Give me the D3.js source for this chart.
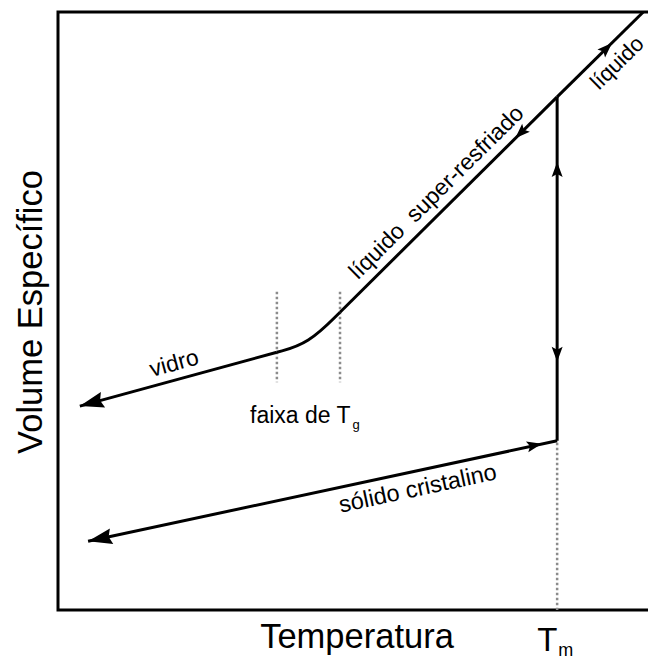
<!DOCTYPE html>
<html>
<head>
<meta charset="utf-8">
<script src="https://cdn.jsdelivr.net/npm/d3@7"></script>
<style>
  body { margin: 0; background: #fff; }
  text { font-family: "Liberation Sans", Arial, sans-serif; fill: #000; white-space: pre; }
</style>
</head>
<body>
<div id="chart"></div>
<script>
// temperature (x) and specific volume (y), both on an arbitrary 0..100 scale
var Tm = 84.6;
var tgRange = [37.1, 47.8];

var liquid      = [[84.6, 85.8], [99.2, 100]];
var supercooled = [[47.8, 49.8], [84.6, 85.8]];
var transition  = [[37.1, 43.1], [42.4, 44.5], [47.8, 49.8]];   // B-spline control points
var glass       = [[3.7, 34.1], [37.1, 43.1]];
var melting     = [[84.6, 85.8], [84.6, 28.3]];
var crystal     = [[5.1, 11.5], [84.6, 28.3]];

// arrows along the curves: [from, tip]
var midArrows = [
	[[91.5, 92.5], [93.9, 94.8]],
	[[80.0, 81.3], [77.5, 78.9]],
	[[84.6, 65.0], [84.6, 74.9]],
	[[84.6, 50.0], [84.6, 41.5]],
	[[75.0, 26.3], [82.0, 27.8]]
];
var endArrows = [
	[[37.1, 43.1], [3.7, 34.1]],
	[[84.6, 28.3], [5.1, 11.5]]
];

var width = 648, height = 659;

var svg = d3.select("#chart")
	.append("svg")
		.attr("width", width)
		.attr("height", height);

var x = d3.scaleLinear().domain([0, 100]).range([58, 648]);
var y = d3.scaleLinear().domain([0, 100]).range([610, 12]);

var line = d3.line().x(function(d) { return x(d[0]); }).y(function(d) { return y(d[1]); });
var curve = d3.line().x(function(d) { return x(d[0]); }).y(function(d) { return y(d[1]); })
	.curve(d3.curveBasis);

// frame (left, top, bottom)
svg.append("path")
	.attr("d", "M" + x(100) + "," + y(100) + "H" + x(0) + "V" + y(0) + "H" + x(100))
	.attr("fill", "none")
	.attr("stroke", "#000")
	.attr("stroke-width", 3);

// dotted guides
var dotted = svg.append("g")
	.attr("stroke", "#8c8c8c")
	.attr("stroke-width", 2.5)
	.attr("stroke-dasharray", "2.5,2.5");

tgRange.forEach(function(t) {
	dotted.append("line")
		.attr("x1", x(t)).attr("x2", x(t))
		.attr("y1", y(53.2)).attr("y2", y(38.1));
});
dotted.append("line")
	.attr("x1", x(Tm)).attr("x2", x(Tm))
	.attr("y1", y(crystal[1][1]) + 2).attr("y2", y(0));

// curves
var curves = svg.append("g")
	.attr("fill", "none")
	.attr("stroke", "#000")
	.attr("stroke-width", 3)
	.attr("stroke-linejoin", "round");

[liquid, supercooled, glass, melting, crystal].forEach(function(d) {
	curves.append("path").attr("d", line(d));
});
curves.append("path").attr("d", curve(transition));

function arrowHead(a, len, half) {
	var x0 = x(a[0][0]), y0 = y(a[0][1]);
	var x1 = x(a[1][0]), y1 = y(a[1][1]);
	var dx = x1 - x0, dy = y1 - y0;
	var l = Math.sqrt(dx * dx + dy * dy);
	var ux = dx / l, uy = dy / l;
	var bx = x1 - ux * len, by = y1 - uy * len;
	return "M" + x1 + "," + y1 +
		"L" + (bx - uy * half) + "," + (by + ux * half) +
		"L" + (bx + ux * 3) + "," + (by + uy * 3) +
		"L" + (bx + uy * half) + "," + (by - ux * half) + "Z";
}

svg.selectAll(".mid")
	.data(midArrows)
	.enter().append("path")
		.attr("class", "mid")
		.attr("d", function(d) { return arrowHead(d, 15, 5.5); });

svg.selectAll(".end")
	.data(endArrows)
	.enter().append("path")
		.attr("class", "end")
		.attr("d", function(d) { return arrowHead(d, 24, 8); });

// labels along segments
function along(seg, t, off, label, size) {
	var x0 = x(seg[0][0]), y0 = y(seg[0][1]);
	var x1 = x(seg[1][0]), y1 = y(seg[1][1]);
	var px = x0 + (x1 - x0) * t, py = y0 + (y1 - y0) * t;
	var ang = Math.atan2(y1 - y0, x1 - x0) * 180 / Math.PI;
	svg.append("text")
		.attr("transform", "translate(" + px + "," + py + ") rotate(" + ang + ")")
		.attr("y", off)
		.attr("text-anchor", "middle")
		.attr("font-size", size)
		.text(label);
}

along(glass, 0.5, -9, "vidro", 23);
along(supercooled, 0.5, -10, "líquido  super-resfriado", 23);
along(liquid, 0.55, 25, "líquido", 22);
along(crystal, 0.695, 25, "sólido cristalino", 23.5);

// T_g range label
var tg = svg.append("text")
	.attr("x", 250)
	.attr("y", 423)
	.attr("font-size", 23);
tg.append("tspan").text("faixa de T");
tg.append("tspan").attr("font-size", 13).attr("dx", 2).attr("dy", 6).text("g");

// axis titles
svg.append("text")
	.attr("x", 357)
	.attr("y", 648)
	.attr("text-anchor", "middle")
	.attr("font-size", 34.5)
	.text("Temperatura");

var tm = svg.append("text")
	.attr("x", x(Tm) - 20)
	.attr("y", 651)
	.attr("font-size", 33);
tm.append("tspan").text("T");
tm.append("tspan").attr("font-size", 18).attr("dx", 1).attr("dy", 5).text("m");

svg.append("text")
	.attr("transform", "translate(42," + (y(50) + 1) + ") rotate(-90)")
	.attr("text-anchor", "middle")
	.attr("font-size", 34.5)
	.text("Volume Específico");
</script>
</body>
</html>
